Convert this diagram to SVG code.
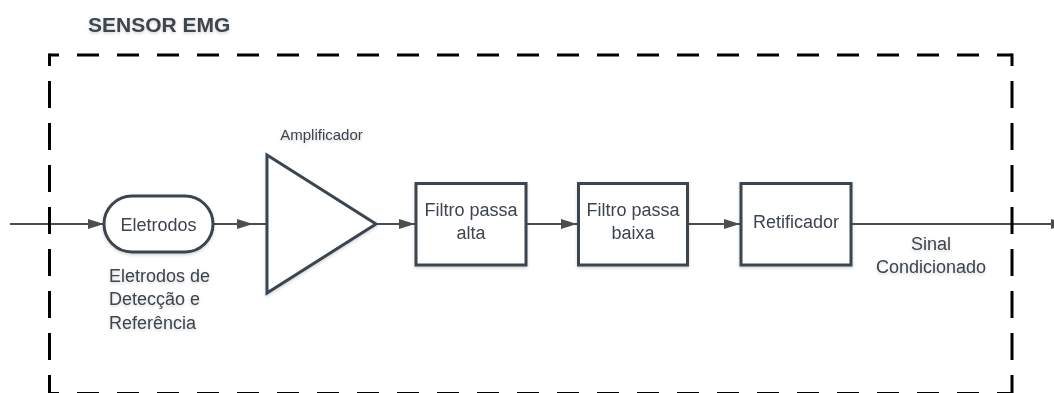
<svg xmlns="http://www.w3.org/2000/svg" width="1054" height="393" viewBox="0 0 1054 393">
  <defs>
    <marker id="arrow" viewBox="0 0 16 10" refX="16" refY="5" markerWidth="16" markerHeight="10" markerUnits="userSpaceOnUse" orient="auto">
      <path d="M0,0 L16,5 L0,10 z" fill="#4a4d52"/>
    </marker>
    <filter id="soft" x="-10%" y="-10%" width="120%" height="130%">
      <feDropShadow dx="0" dy="1.5" stdDeviation="1.5" flood-color="#000" flood-opacity="0.18"/>
    </filter>
  </defs>
  <style>
    .label { font-family: "Liberation Sans", Arial, sans-serif; font-size: 18px; fill: #3d444d; }
    .small { font-size: 15px; }
    .title { font-family: "Liberation Sans", Arial, sans-serif; font-size: 21px; font-weight: bold; fill: #3d444d; }
    .shape { fill: #ffffff; stroke: #3a4450; stroke-width: 3; }
    .wire { fill: none; stroke: #4a4d52; stroke-width: 2; }
    .border { fill: none; stroke: #000000; stroke-width: 3; }
  </style>

  <rect width="1054" height="393" fill="#ffffff"/>

  <!-- sensor enclosure title -->
  <text class="title" x="88" y="32" filter="url(#soft)">SENSOR EMG</text>

  <!-- connectors -->
  <g id="connectors">
    <line class="wire" x1="10" y1="224" x2="104" y2="224" marker-end="url(#arrow)"/>
    <line class="wire" x1="213" y1="224" x2="253" y2="224" marker-end="url(#arrow)"/>
    <line class="wire" x1="253" y1="224" x2="268" y2="224"/>
    <line class="wire" x1="376" y1="224" x2="415" y2="224" marker-end="url(#arrow)"/>
    <line class="wire" x1="526" y1="224" x2="577" y2="224" marker-end="url(#arrow)"/>
    <line class="wire" x1="688" y1="224" x2="740" y2="224" marker-end="url(#arrow)"/>
    <line class="wire" x1="851" y1="224" x2="1067" y2="224" marker-end="url(#arrow)"/>
  </g>

  <!-- dashed enclosure, each side dashed separately so corners get a half dash -->
  <g id="enclosure">
    <line class="border" x1="49.5" y1="55" x2="1012" y2="55" stroke-dasharray="22 18" stroke-dashoffset="12.5"/>
    <line class="border" x1="49.5" y1="393.5" x2="1012" y2="393.5" stroke-dasharray="22 18" stroke-dashoffset="12.5"/>
    <line class="border" x1="49.5" y1="53.5" x2="49.5" y2="395" stroke-dasharray="27 15" stroke-dashoffset="14.5"/>
    <line class="border" x1="1012" y1="53.5" x2="1012" y2="395" stroke-dasharray="27 15" stroke-dashoffset="14.5"/>
  </g>

  <g id="eletrodos" filter="url(#soft)">
    <rect class="shape" x="104" y="196" width="109" height="56" rx="28" ry="28"/>
    <text class="label" x="158.5" y="230.5" text-anchor="middle">Eletrodos</text>
  </g>

  <g id="eletrodos-nota" filter="url(#soft)">
    <text class="label" x="109" y="281.5">Eletrodos de</text>
    <text class="label" x="109" y="305">Detecção e</text>
    <text class="label" x="109" y="328.5">Referência</text>
  </g>

  <g id="amplificador" filter="url(#soft)">
    <path class="shape" d="M267,155 L376,224 L267,293 z" stroke-linejoin="miter"/>
    <text class="label small" x="321.5" y="140" text-anchor="middle">Amplificador</text>
  </g>

  <g id="filtro-alta" filter="url(#soft)">
    <rect class="shape" x="416" y="183.5" width="110" height="81.5"/>
    <text class="label" x="471" y="216" text-anchor="middle">Filtro passa</text>
    <text class="label" x="471" y="239" text-anchor="middle">alta</text>
  </g>

  <g id="filtro-baixa" filter="url(#soft)">
    <rect class="shape" x="578.5" y="183.5" width="109" height="81.5"/>
    <text class="label" x="633" y="216" text-anchor="middle">Filtro passa</text>
    <text class="label" x="633" y="239" text-anchor="middle">baixa</text>
  </g>

  <g id="retificador" filter="url(#soft)">
    <rect class="shape" x="741" y="183.5" width="110" height="81.5"/>
    <text class="label" x="796" y="227.5" text-anchor="middle">Retificador</text>
  </g>

  <g id="sinal" filter="url(#soft)">
    <text class="label" x="931" y="250" text-anchor="middle">Sinal</text>
    <text class="label" x="931" y="272.5" text-anchor="middle">Condicionado</text>
  </g>
</svg>
